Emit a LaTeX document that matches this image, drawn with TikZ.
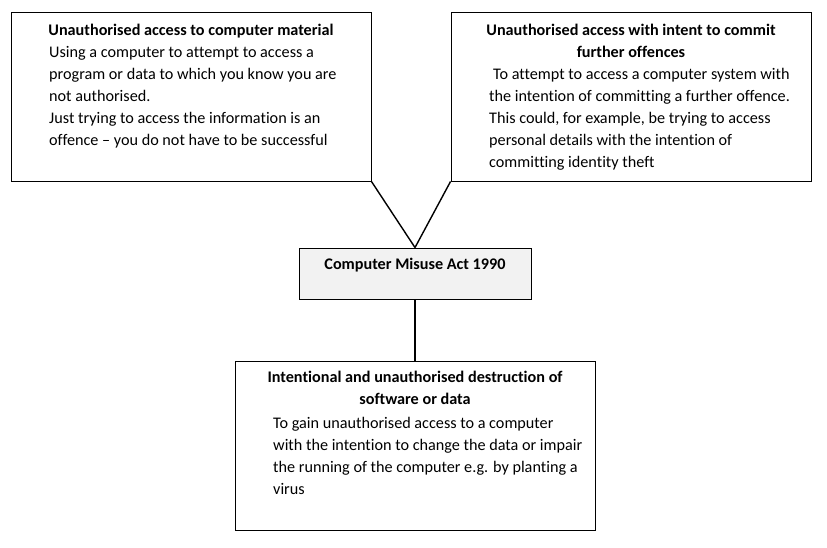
\documentclass[tikz,border=0pt]{standalone}
\usepackage{fontspec}
\setmainfont{Carlito}[Ligatures=NoCommon]
\usetikzlibrary{positioning}
\tikzset{font=\fontsize{16.2}{22}\selectfont}
\definecolor{actgrey}{HTML}{F2F2F2}

\begin{document}
\begin{tikzpicture}[x=1pt,y=-1pt,
    box/.style={draw,line width=0.9pt,inner sep=0pt},
    title/.style={anchor=base,align=center,inner sep=0pt,font=\fontsize{16.2}{22}\selectfont\bfseries},
    body/.style={anchor=base west,align=left,inner sep=0pt},
    link/.style={line width=1.4pt}]
      \useasboundingbox (0,0) rectangle (827,547);

      % base anchor of a multi-line node sits on its last line
      \node[box,minimum width={360pt},minimum height={169pt}] (Access) at (191,96.5) {};
      \node[title] (AccessT) at (191,35) {Unauthorised access to computer material};
      \node[body] (AccessB) at (49,145) {Using a computer to attempt to access a\\program or data to which you know you are\\not authorised.\\Just trying to access the information is an\\offence -- you do not have to be successful};

      \node[box,minimum width={360pt},minimum height={169pt}] (Intent) at (631,96.5) {};
      \node[title] (IntentT) at (631,57) {Unauthorised access with intent to commit\\further offences};
      \node[body] (IntentB) at (489,167) {\hspace{4pt}To attempt to access a computer system with\\the intention of committing a further offence.\\This could, for example, be trying to access\\personal details with the intention of\\committing identity theft};

      \node[box,fill=actgrey,minimum width={232pt},minimum height={51pt}] (Act) at (415,273.5) {};
      \node[title] (ActT) at (415,269) {Computer Misuse Act 1990};

      \node[box,minimum width={360pt},minimum height={169pt}] (Destroy) at (415,445.5) {};
      \node[title] (DestroyT) at (415,404) {Intentional and unauthorised destruction of\\software or data};
      \node[body] (DestroyB) at (273,494) {To gain unauthorised access to a computer\\with the intention to change the data or impair\\the running of the computer e.g. by planting a\\virus};

      \draw[link] (Access.south east) -- (Act.north);
      \draw[link] (Intent.south west) -- (Act.north);
      \draw[link] (Act.south) -- (Destroy.north);
  \end{tikzpicture}
\end{document}
